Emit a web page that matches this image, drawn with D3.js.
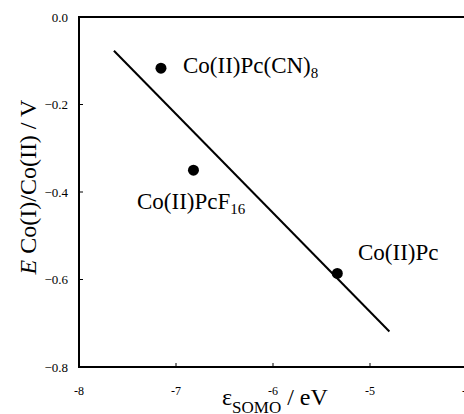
<!DOCTYPE html>
<html>
<head>
<script src="https://d3js.org/d3.v7.min.js"></script>
<style>
  body { margin: 0; background: white; }
</style>
</head>
<body>
<svg id="plt"></svg>
<script>
// compounds: SOMO energy (eV) vs E Co(I)/Co(II) (V)
const names = ['Co(II)Pc(CN)', 'Co(II)PcF', 'Co(II)Pc'];
const subs = ['8', '16', ''];
const somo = [-7.155, -6.82, -5.337];
const redox = [-0.117, -0.35, -0.586];
// fit line end points
const fitX = [-7.64, -4.80];
const fitY = [-0.077, -0.719];
const xTicks = [-8, -7, -6, -5, -4];
const yTicks = [0, -0.2, -0.4, -0.6, -0.8];

const serif = 'Liberation Serif';

let svg = d3.select('#plt').attr('width', 464).attr('height', 414);

let x = d3.scaleLinear().domain([-8, -4]).range([79, 467]);
let y = d3.scaleLinear().domain([0, -0.8]).range([17, 367]);

// frame
svg.append('rect')
   .attr('x', x(-8)).attr('y', y(0))
   .attr('width', x(-4) - x(-8)).attr('height', y(-0.8) - y(0))
   .attr('fill', 'none').attr('stroke', 'black').attr('stroke-width', 2);

// ticks (inward)
svg.selectAll('.xt').data(xTicks).join('line')
   .attr('x1', d => x(d)).attr('x2', d => x(d))
   .attr('y1', y(-0.8)).attr('y2', y(-0.8) - 4)
   .attr('stroke', 'black').attr('stroke-width', 1);
svg.selectAll('.yt').data(yTicks).join('line')
   .attr('x1', x(-8)).attr('x2', x(-8) + 4)
   .attr('y1', d => y(d)).attr('y2', d => y(d))
   .attr('stroke', 'black').attr('stroke-width', 1);

// tick labels
svg.selectAll('.xl').data(xTicks).join('text')
   .attr('x', d => x(d)).attr('y', 395)
   .attr('text-anchor', 'middle').attr('font-size', 12)
   .style('font-family', serif)
   .text(d => d);
svg.selectAll('.yl').data(yTicks).join('text')
   .attr('x', 68).attr('y', d => y(d) + 4.5)
   .attr('text-anchor', 'end').attr('font-size', 13)
   .style('font-family', serif)
   .text(d => d3.format('.1f')(d));

// fit line
svg.append('line')
   .attr('x1', x(fitX[0])).attr('y1', y(fitY[0]))
   .attr('x2', x(fitX[1])).attr('y2', y(fitY[1]))
   .attr('stroke', 'black').attr('stroke-width', 2);

// points
svg.selectAll('circle').data(somo).join('circle')
   .attr('cx', d => x(d)).attr('cy', (d, i) => y(redox[i]))
   .attr('r', 5.5).attr('fill', 'black');

// point labels
const labPos = [[183, 73], [137, 209], [358, 260]];
names.forEach((n, i) => {
  let t = svg.append('text').attr('x', labPos[i][0]).attr('y', labPos[i][1])
             .attr('font-size', 23).style('font-family', serif).text(n);
  if (subs[i]) t.append('tspan').attr('dy', 5).attr('font-size', 15).text(subs[i]);
});

// x axis title
let xt = svg.append('text').attr('x', 222).attr('y', 405).attr('font-size', 24)
            .style('font-family', serif);
xt.append('tspan').text('ε');
xt.append('tspan').attr('dy', 8).attr('font-size', 17).text('SOMO');
xt.append('tspan').attr('dy', -8).text(' / eV');

// y axis title
let yt = svg.append('text').attr('transform', 'translate(36,187) rotate(-90)')
   .attr('text-anchor', 'middle').attr('font-size', 24).style('font-family', serif);
yt.append('tspan').attr('font-style', 'italic').text('E');
yt.append('tspan').text(' Co(I)/Co(II) / V');
</script>
</body>
</html>
